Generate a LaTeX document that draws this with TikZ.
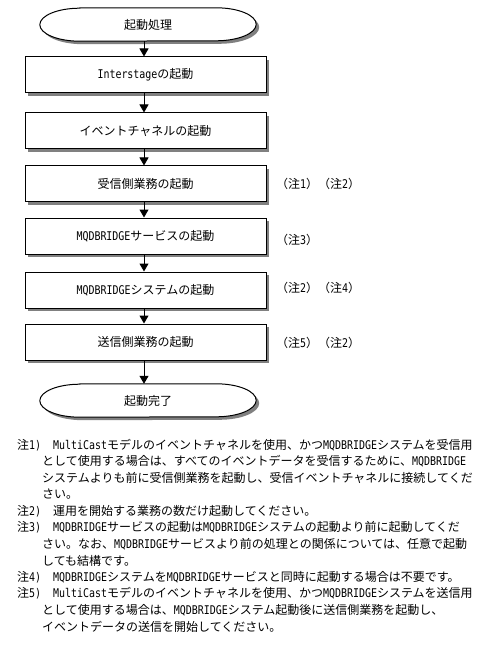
\documentclass[tikz,border=0pt]{standalone}
\usepackage{fontspec}
\setmainfont{Noto Sans CJK JP}
\newfontfamily\hwfont{DejaVu Sans Mono}[FakeStretch=0.83]
\newcommand\hw[1]{{\hwfont #1}}
\usetikzlibrary{arrows.meta,shadows}
\tikzset{
  shad/.style={drop shadow={shadow xshift=3pt,shadow yshift=-3pt,fill=gray,opacity=1}},
  stepbox/.style={draw=black,line width=1pt,fill=white,shad,minimum width=241pt,minimum height=36pt,inner sep=0pt},
  termnode/.style={minimum width=216pt,minimum height=33pt,inner sep=0pt},
  termline/.style={draw=black,line width=1pt,fill=white,shad},
  arr/.style={draw=black,line width=1pt,-{Triangle[width=9pt,length=8pt]}},
  sidenote/.style={anchor=west,inner sep=0pt},
  notetxt/.style={anchor=west,inner sep=0pt}
}
\begin{document}
\begin{tikzpicture}[x=1pt,y=-1pt,font=\fontsize{12}{14}\selectfont]
\useasboundingbox[fill=white] (0,0) rectangle (503,660);
\coordinate (ax) at (144,0);
% terminals
\node[termnode] (start) at (148,24.5) {};
\path[termline] ([xshift=40pt]start.north west) -- ([xshift=-40pt]start.north east)
  arc[start angle=90,end angle=-90,x radius=40pt,y radius=16.5pt]
  -- ([xshift=40pt]start.south west)
  arc[start angle=270,end angle=90,x radius=40pt,y radius=16.5pt] -- cycle;
\node at (start) {起動処理};
\node[termnode] (end) at (148,400.5) {};
\path[termline] ([xshift=40pt]end.north west) -- ([xshift=-40pt]end.north east)
  arc[start angle=90,end angle=-90,x radius=40pt,y radius=16.5pt]
  -- ([xshift=40pt]end.south west)
  arc[start angle=270,end angle=90,x radius=40pt,y radius=16.5pt] -- cycle;
\node at (end) {起動完了};
% steps
\node[stepbox] (b1) at (145.5,75) {\hw{Interstage}の起動};
\node[stepbox] (b2) at (145.5,131) {イベントチャネルの起動};
\node[stepbox] (b3) at (145.5,184) {受信側業務の起動};
\node[stepbox] (b4) at (145.5,236) {\hw{MQDBRIDGE}サービスの起動};
\node[stepbox] (b5) at (145.5,290) {\hw{MQDBRIDGE}システムの起動};
\node[stepbox] (b6) at (145.5,342) {送信側業務の起動};
% connectors
\draw[arr] (start.south -| ax) -- (b1.north -| ax);
\draw[arr] (b1.south -| ax) -- (b2.north -| ax);
\draw[arr] (b2.south -| ax) -- (b3.north -| ax);
\draw[arr] (b3.south -| ax) -- (b4.north -| ax);
\draw[arr] (b4.south -| ax) -- (b5.north -| ax);
\draw[arr] (b5.south -| ax) -- (b6.north -| ax);
\draw[arr] (b6.south -| ax) -- (end.north -| ax);
% side notes
\node[sidenote] (s3) at (276,184) {（注\hw{1}）（注\hw{2}）};
\node[sidenote] (s4) at (276,240) {（注\hw{3}）};
\node[sidenote] (s5) at (276,288) {（注\hw{2}）（注\hw{4}）};
\node[sidenote] (s6) at (276,343) {（注\hw{5}）（注\hw{2}）};
% notes
\node[notetxt] (k1) at (17,445) {注\hw{1)}};
\node[notetxt] (t1) at (53,445) {\hw{MultiCast}モデルのイベントチャネルを使用、かつ\hw{MQDBRIDGE}システムを受信用};
\node[notetxt] (t2) at (42,461.5) {として使用する場合は、すべてのイベントデータを受信するために、\hw{MQDBRIDGE}};
\node[notetxt] (t3) at (42,478) {システムよりも前に受信側業務を起動し、受信イベントチャネルに接続してくだ};
\node[notetxt] (t4) at (42,494.5) {さい。};
\node[notetxt] (k2) at (17,511) {注\hw{2)}};
\node[notetxt] (t5) at (53,511) {運用を開始する業務の数だけ起動してください。};
\node[notetxt] (k3) at (17,527.5) {注\hw{3)}};
\node[notetxt] (t6) at (53,527.5) {\hw{MQDBRIDGE}サービスの起動は\hw{MQDBRIDGE}システムの起動より前に起動してくだ};
\node[notetxt] (t7) at (42,544) {さい。なお、\hw{MQDBRIDGE}サービスより前の処理との関係については、任意で起動};
\node[notetxt] (t8) at (42,560.5) {しても結構です。};
\node[notetxt] (k4) at (17,577) {注\hw{4)}};
\node[notetxt] (t9) at (53,577) {\hw{MQDBRIDGE}システムを\hw{MQDBRIDGE}サービスと同時に起動する場合は不要です。};
\node[notetxt] (k5) at (17,593.5) {注\hw{5)}};
\node[notetxt] (t10) at (53,593.5) {\hw{MultiCast}モデルのイベントチャネルを使用、かつ\hw{MQDBRIDGE}システムを送信用};
\node[notetxt] (t11) at (42,610) {として使用する場合は、\hw{MQDBRIDGE}システム起動後に送信側業務を起動し、};
\node[notetxt] (t12) at (42,626.5) {イベントデータの送信を開始してください。};
\end{tikzpicture}
\end{document}
